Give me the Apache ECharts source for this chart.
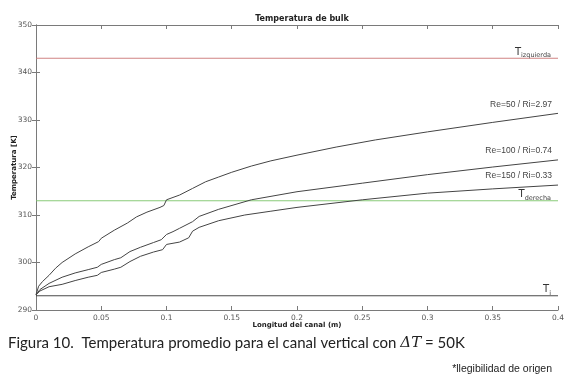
<!DOCTYPE html>
<html>
<head>
<meta charset="utf-8">
<script src="https://cdn.jsdelivr.net/npm/echarts@6/dist/echarts.min.js"></script>
<style>
html,body{margin:0;padding:0;background:#fff;}
#chart{width:569px;height:379px;}
</style>
</head>
<body>
<div id="chart"></div>
<script>
// ---- data ----
const xTicks = [0, 0.05, 0.1, 0.15, 0.2, 0.25, 0.3, 0.35, 0.4];
const yTicks = [290, 300, 310, 320, 330, 340, 350];

const re50X = [0, 0.002, 0.005, 0.01, 0.015, 0.02, 0.03, 0.04, 0.048, 0.05, 0.06, 0.07, 0.077, 0.085, 0.095, 0.098, 0.1, 0.11, 0.12, 0.13, 0.14, 0.15, 0.165, 0.18, 0.2, 0.23, 0.26, 0.3, 0.35, 0.4];
const re50Y = [293.2, 295.0, 296.0, 297.3, 298.8, 300.0, 301.8, 303.3, 304.4, 305.1, 306.8, 308.3, 309.6, 310.6, 311.6, 312.0, 313.2, 314.2, 315.6, 317.0, 318.0, 319.0, 320.3, 321.4, 322.6, 324.3, 325.8, 327.5, 329.5, 331.4];

const re100X = [0, 0.003, 0.01, 0.02, 0.03, 0.04, 0.047, 0.05, 0.06, 0.065, 0.072, 0.08, 0.09, 0.096, 0.1, 0.105, 0.11, 0.12, 0.125, 0.14, 0.165, 0.2, 0.25, 0.3, 0.35, 0.4];
const re100Y = [293.2, 294.3, 295.6, 296.9, 297.8, 298.5, 299.0, 299.6, 300.6, 301.0, 302.3, 303.2, 304.2, 304.8, 305.9, 306.5, 307.2, 308.6, 309.7, 311.2, 313.2, 314.9, 316.7, 318.5, 320.1, 321.6];

const re150X = [0, 0.003, 0.01, 0.02, 0.03, 0.04, 0.047, 0.05, 0.06, 0.065, 0.072, 0.08, 0.09, 0.097, 0.1, 0.11, 0.117, 0.12, 0.125, 0.14, 0.16, 0.18, 0.2, 0.25, 0.3, 0.35, 0.4];
const re150Y = [293.2, 294.0, 294.9, 295.4, 296.2, 296.9, 297.3, 297.9, 298.6, 299.0, 300.2, 301.3, 302.2, 302.7, 303.8, 304.3, 305.2, 306.6, 307.4, 308.8, 310.0, 310.8, 311.6, 313.2, 314.6, 315.5, 316.3];

const seriesNames = ['Re=50 / Ri=2.97', 'Re=100 / Ri=0.74', 'Re=150 / Ri=0.33'];
const refNames = ['izquierda', 'derecha', 'i'];
const refValues = [343, 313, 293];
const xRange = [0, 0.4];

// ---- chart ----
const zip = (xs, ys) => xs.map((x, i) => [x, ys[i]]);
const chart = echarts.init(document.getElementById('chart'), null, {renderer: 'canvas'});

const axisCol = '#7a7a7a';
const labelCol = '#555';
const curveCol = '#444';
const refColors = ['#cc7575', '#7cc46a', '#333333'];

function curve(name, data) {
  const last = data[data.length - 1];
  return {
    name, type: 'line', data, showSymbol: false, symbol: 'none',
    lineStyle: {color: curveCol, width: 1}, itemStyle: {color: curveCol}, silent: true, z: 3,
    markPoint: {
      symbol: 'circle', symbolSize: 0, silent: true,
      data: [{coord: last, value: name}],
      label: {show: true, position: 'left', offset: [-1, -9], formatter: name,
        color: '#444', fontSize: 8.5, fontFamily: 'Liberation Sans', textBorderColor: 'transparent'}
    }
  };
}

const richLab = {
  b: {fontSize: 10, color: '#333', fontFamily: 'DejaVu Sans', verticalAlign: 'bottom'},
  s: {fontSize: 6.5, color: '#444', fontFamily: 'DejaVu Sans', verticalAlign: 'bottom', padding: [0, 0, -2, 0]}
};

function refSeries(i) {
  const data = xRange.map(x => [x, refValues[i]]);
  return {
    name: 'T' + refNames[i], type: 'line', data, showSymbol: false, symbol: 'none', silent: true, z: 2,
    lineStyle: {color: refColors[i], width: 0.9, opacity: 1}, itemStyle: {color: refColors[i]},
    markPoint: {
      symbol: 'circle', symbolSize: 0, silent: true,
      data: [{coord: data[1]}],
      label: {show: true, position: 'left', offset: [-2, -6],
        formatter: '{b|T}{s|' + refNames[i] + '}', rich: richLab}
    }
  };
}

chart.setOption({
  animation: false,
  title: {text: 'Temperatura de bulk', left: 297, top: 10, textAlign: 'center',
    textStyle: {fontSize: 8, fontWeight: 'bold', color: '#222', fontFamily: 'DejaVu Sans'}},
  grid: {left: 36, right: 11, top: 25, bottom: 69, containLabel: false, outerBoundsMode: 'none'},
  xAxis: [{
    type: 'value', min: 0, max: 0.4, interval: 0.05,
    name: 'Longitud del canal (m)', nameLocation: 'middle', nameGap: 12, nameMoveOverlap: false,
    nameTextStyle: {fontSize: 7, fontWeight: 'bold', color: '#222', fontFamily: 'DejaVu Sans'},
    axisLine: {lineStyle: {color: axisCol}},
    axisTick: {inside: true, length: 4, lineStyle: {color: axisCol}},
    axisLabel: {fontSize: 7.5, color: labelCol, margin: 4, fontFamily: 'DejaVu Sans',
      formatter: v => { const t = xTicks.find(t => Math.abs(t - v) < 1e-9); return t === undefined ? '' : String(t); }},
    splitLine: {show: false}
  }, {
    type: 'value', min: 0, max: 0.4, interval: 0.05, position: 'top',
    axisLine: {show: true, lineStyle: {color: axisCol}},
    axisTick: {inside: true, length: 4, lineStyle: {color: axisCol}},
    axisLabel: {show: false}, splitLine: {show: false}
  }],
  yAxis: [{
    type: 'value', min: 290, max: 350, interval: 10,
    name: 'Temperatura [K]', nameLocation: 'middle', nameGap: 18, nameRotate: 90, nameMoveOverlap: false,
    nameTextStyle: {fontSize: 7, fontWeight: 'bold', color: '#222', fontFamily: 'DejaVu Sans'},
    axisLine: {show: true, lineStyle: {color: axisCol}},
    axisTick: {show: true, inside: true, length: 4, lineStyle: {color: axisCol}},
    axisLabel: {fontSize: 7.5, color: labelCol, margin: 4, fontFamily: 'DejaVu Sans',
      formatter: v => yTicks.includes(v) ? String(v) : ''},
    splitLine: {show: false}
  }, {
    type: 'value', min: 290, max: 350, interval: 10, position: 'right',
    axisLine: {show: true, lineStyle: {color: axisCol}},
    axisTick: {show: true, inside: true, length: 4, lineStyle: {color: axisCol}},
    axisLabel: {show: false}, splitLine: {show: false}
  }],
  series: [
    curve(seriesNames[0], zip(re50X, re50Y)),
    curve(seriesNames[1], zip(re100X, re100Y)),
    curve(seriesNames[2], zip(re150X, re150Y)),
    refSeries(0), refSeries(1), refSeries(2)
  ],
  graphic: [
    {type: 'text', left: 8, top: 336,
      style: {text: 'Figura 10.  Temperatura promedio para el canal vertical con {i|ΔT} = 50K',
        rich: {i: {fontStyle: 'italic', fontSize: 15, fontFamily: 'DejaVu Serif', fill: '#222'}},
        fontSize: 15, fontFamily: 'Lato', fill: '#222'}},
    {type: 'text', right: 17, top: 364,
      style: {text: '*llegibilidad de origen', fontSize: 10.5, fontFamily: 'Liberation Sans', fill: '#222'}}
  ]
});
</script>
</body>
</html>
